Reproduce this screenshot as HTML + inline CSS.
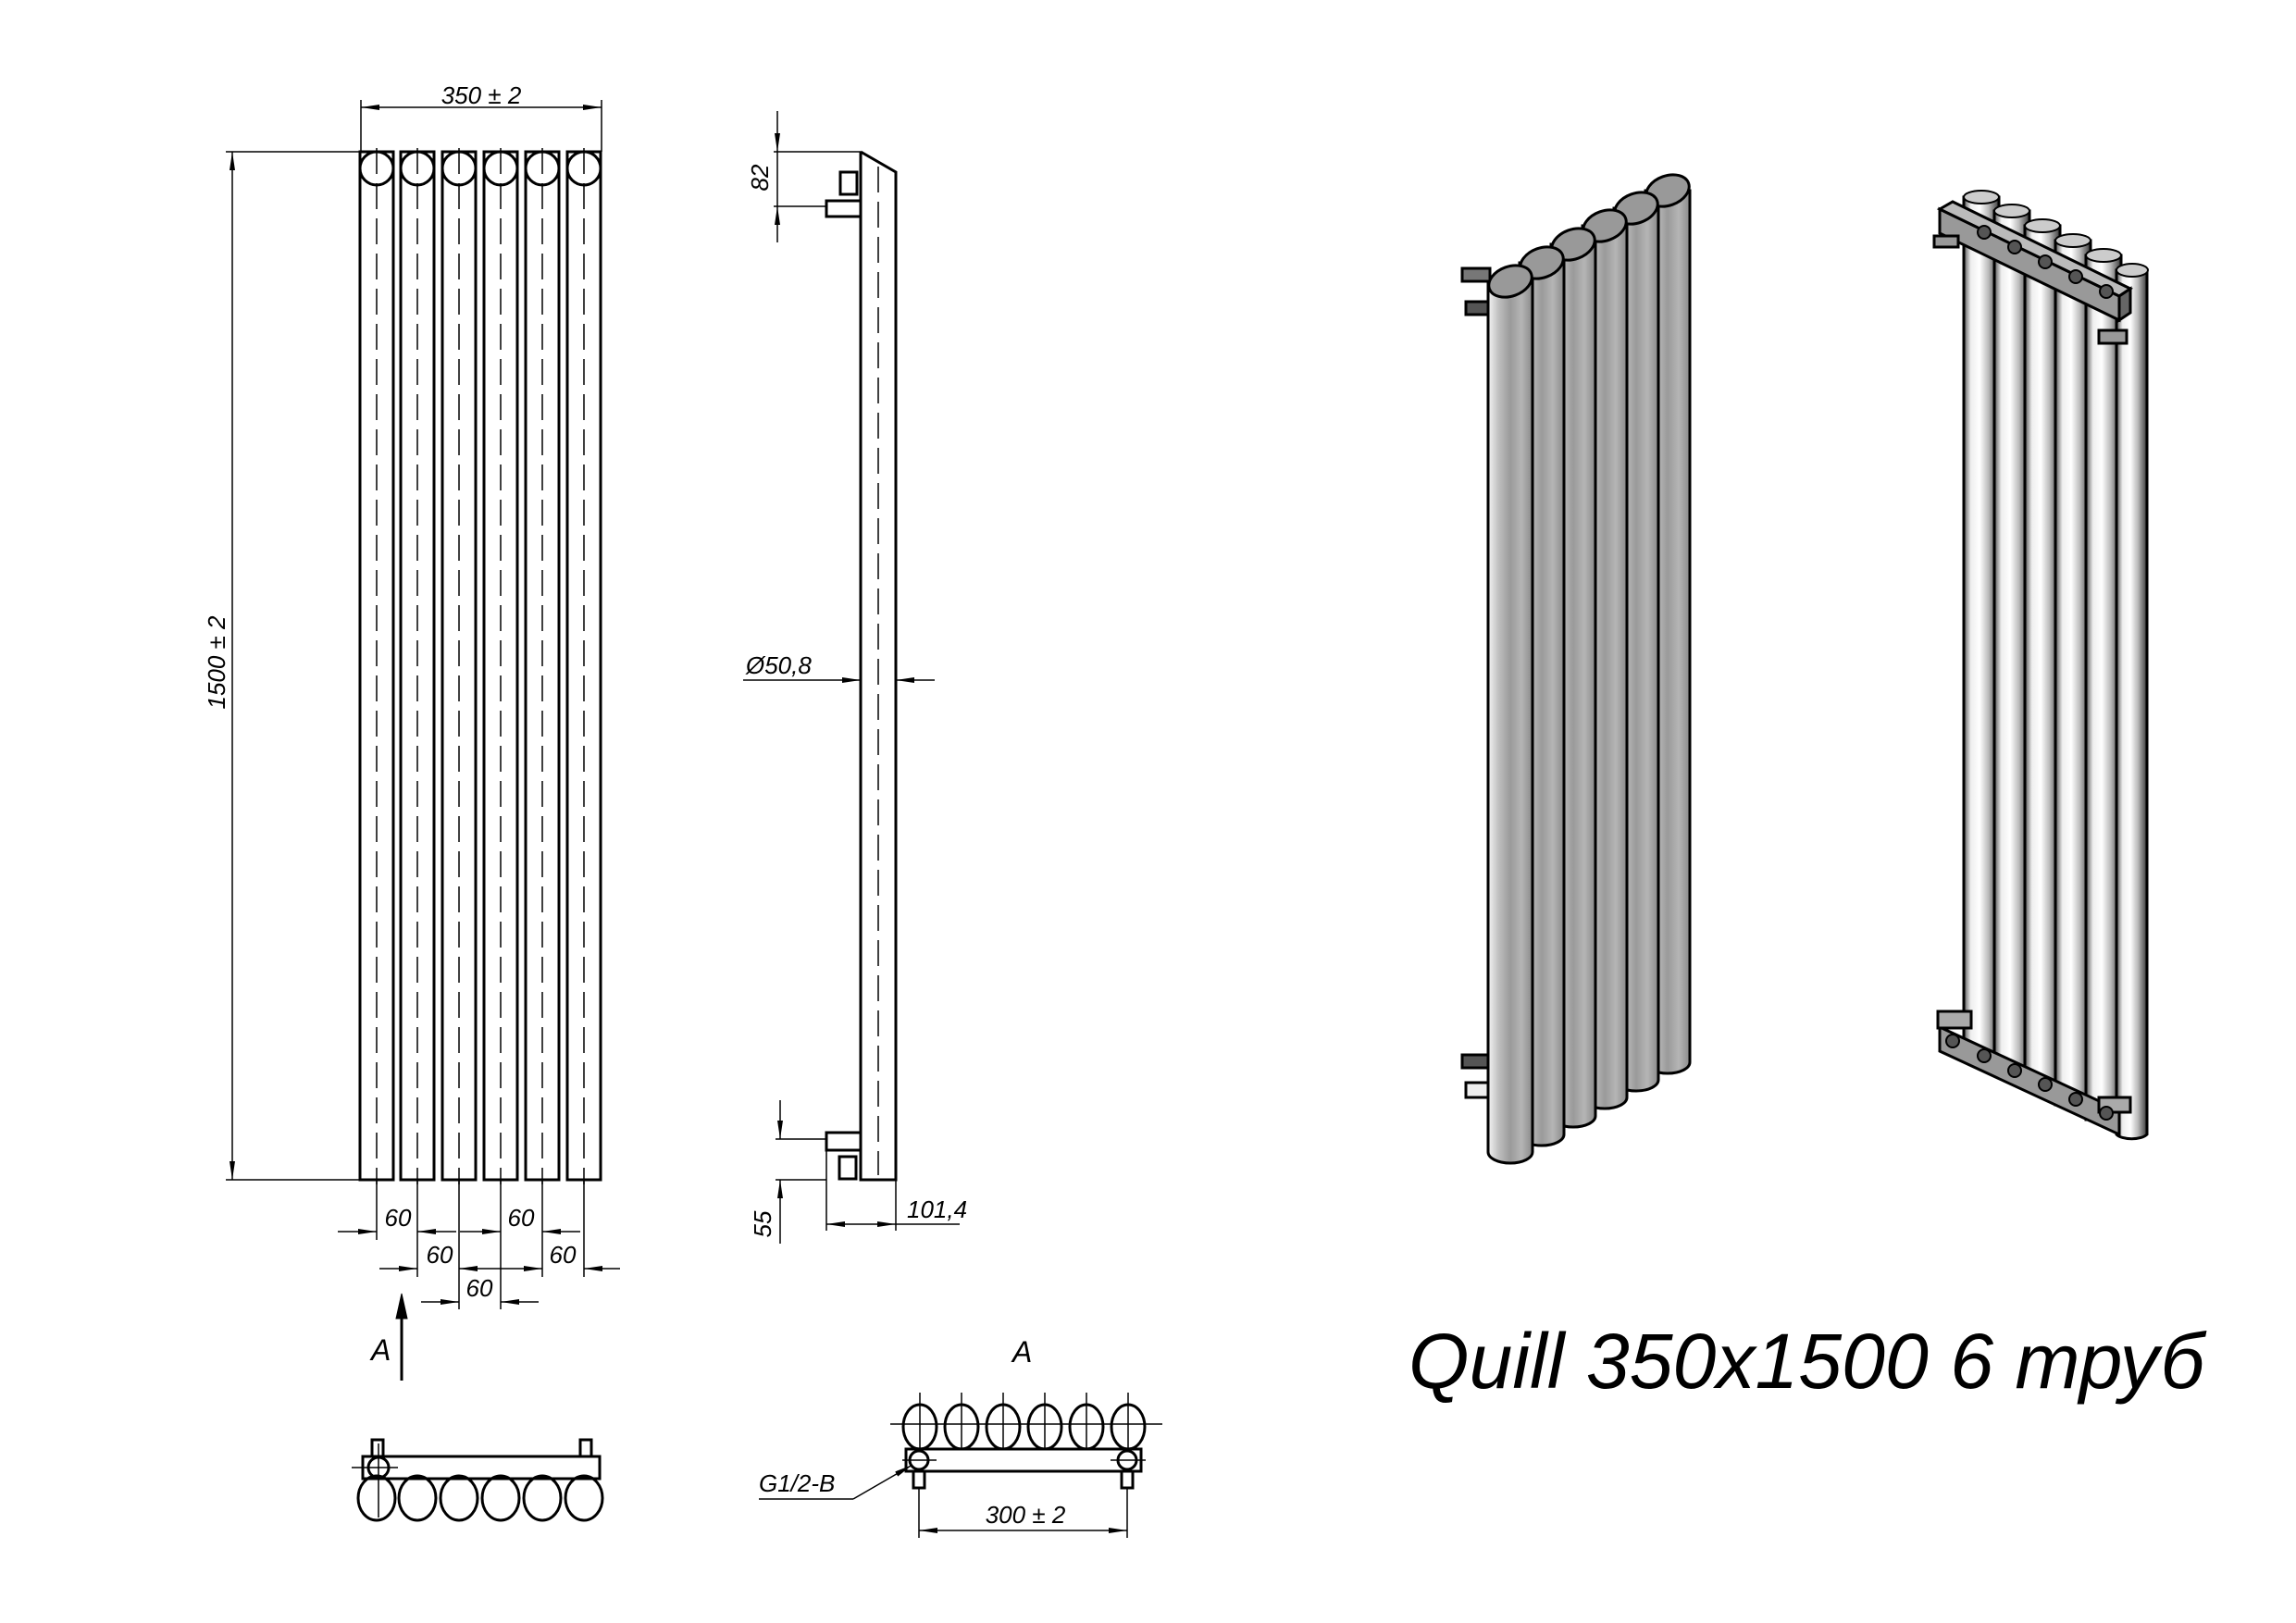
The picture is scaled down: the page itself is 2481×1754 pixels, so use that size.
<!DOCTYPE html>
<html><head><meta charset="utf-8"><style>
html,body{margin:0;padding:0;background:#fff}
svg{display:block}
text{font-family:"Liberation Sans","DejaVu Sans",sans-serif;font-style:italic;fill:#000}
</style></head><body>
<svg width="2481" height="1754" viewBox="0 0 2481 1754" xmlns="http://www.w3.org/2000/svg">
<defs>
<marker id="ar" viewBox="0 0 20 6" refX="20" refY="3" markerWidth="20" markerHeight="6" markerUnits="userSpaceOnUse" orient="auto-start-reverse"><path d="M0,0 L20,3 L0,6 z" fill="#000"/></marker>
<linearGradient id="g1" x1="0" x2="1" y1="0" y2="0">
<stop offset="0" stop-color="#f4f4f4"/><stop offset="0.25" stop-color="#bdbdbd"/><stop offset="0.5" stop-color="#9a9a9a"/><stop offset="0.75" stop-color="#b5b5b5"/><stop offset="1" stop-color="#8a8a8a"/></linearGradient>
<linearGradient id="g2" x1="0" x2="1" y1="0" y2="0">
<stop offset="0" stop-color="#555"/><stop offset="0.2" stop-color="#eee"/><stop offset="0.45" stop-color="#fff"/><stop offset="0.7" stop-color="#bbb"/><stop offset="0.9" stop-color="#666"/><stop offset="1" stop-color="#333"/></linearGradient>
</defs>
<g stroke="#000" fill="none">
<!-- 350 dim -->
<line x1="390" y1="108" x2="390" y2="164" stroke-width="1.5"/>
<line x1="650" y1="108" x2="650" y2="164" stroke-width="1.5"/>
<line x1="390" y1="116" x2="650" y2="116" stroke-width="1.5" marker-start="url(#ar)" marker-end="url(#ar)"/>
<!-- 1500 dim -->
<line x1="244" y1="164" x2="390" y2="164" stroke-width="1.5"/>
<line x1="244" y1="1275" x2="390" y2="1275" stroke-width="1.5"/>
<line x1="251" y1="164" x2="251" y2="1275" stroke-width="1.5" marker-start="url(#ar)" marker-end="url(#ar)"/>
<!-- tubes -->
<g stroke-width="3">
<rect x="389" y="164" width="36" height="1111"/><rect x="433" y="164" width="36" height="1111"/>
<rect x="478" y="164" width="36" height="1111"/><rect x="523" y="164" width="36" height="1111"/>
<rect x="568" y="164" width="36" height="1111"/><rect x="613" y="164" width="36" height="1111"/>
<circle cx="407" cy="182" r="18"/><circle cx="451" cy="182" r="18"/><circle cx="496" cy="182" r="18"/>
<circle cx="541" cy="182" r="18"/><circle cx="586" cy="182" r="18"/><circle cx="631" cy="182" r="18"/>
</g>
<g stroke-width="1.5" stroke-dasharray="28,10">
<line x1="407" y1="160" x2="407" y2="1280"/><line x1="451" y1="160" x2="451" y2="1280"/><line x1="496" y1="160" x2="496" y2="1280"/>
<line x1="541" y1="160" x2="541" y2="1280"/><line x1="586" y1="160" x2="586" y2="1280"/><line x1="631" y1="160" x2="631" y2="1280"/>
</g>
<!-- 60 dims -->
<g stroke-width="1.5">
<line x1="407" y1="1275" x2="407" y2="1340"/><line x1="451" y1="1275" x2="451" y2="1380"/>
<line x1="496" y1="1275" x2="496" y2="1415"/><line x1="541" y1="1275" x2="541" y2="1415"/>
<line x1="586" y1="1275" x2="586" y2="1380"/><line x1="631" y1="1275" x2="631" y2="1380"/>
<line x1="365" y1="1331" x2="407" y2="1331" marker-end="url(#ar)"/><line x1="493" y1="1331" x2="451" y2="1331" marker-end="url(#ar)"/>
<line x1="497" y1="1331" x2="541" y2="1331" marker-end="url(#ar)"/><line x1="627" y1="1331" x2="586" y2="1331" marker-end="url(#ar)"/>
<line x1="410" y1="1371" x2="451" y2="1371" marker-end="url(#ar)"/><line x1="541" y1="1371" x2="496" y2="1371" marker-end="url(#ar)"/>
<line x1="541" y1="1371" x2="586" y2="1371" marker-end="url(#ar)"/><line x1="670" y1="1371" x2="631" y2="1371" marker-end="url(#ar)"/>
<line x1="455" y1="1407" x2="496" y2="1407" marker-end="url(#ar)"/><line x1="582" y1="1407" x2="541" y2="1407" marker-end="url(#ar)"/>
</g>
<!-- A arrow -->
<line x1="434" y1="1492" x2="434" y2="1420" stroke-width="3"/>
<path d="M428,1425 L434,1398 L440,1425 z" fill="#000" stroke-width="1"/>
<!-- bottom view left -->
<g stroke-width="3">
<rect x="392" y="1574" width="256" height="24"/>
<rect x="402" y="1556" width="12" height="18"/><rect x="627" y="1556" width="12" height="18"/>
<circle cx="409" cy="1586" r="11"/>
<ellipse cx="407" cy="1619" rx="20" ry="24"/><ellipse cx="451" cy="1619" rx="20" ry="24"/><ellipse cx="496" cy="1619" rx="20" ry="24"/>
<ellipse cx="541" cy="1619" rx="20" ry="24"/><ellipse cx="586" cy="1619" rx="20" ry="24"/><ellipse cx="631" cy="1619" rx="20" ry="24"/>
</g>
<line x1="380" y1="1586" x2="430" y2="1586" stroke-width="1.5"/>
<line x1="409" y1="1560" x2="409" y2="1640" stroke-width="1.5"/>
<!-- side view -->
<g stroke-width="3">
<path d="M930,164 L930,1275 L968,1275 L968,186 L930,164"/>
<rect x="908" y="186" width="18" height="24"/><rect x="893" y="217" width="37" height="17"/>
<rect x="893" y="1224" width="37" height="19"/><rect x="907" y="1250" width="18" height="24"/>
</g>
<line x1="949" y1="180" x2="949" y2="1270" stroke-width="1.5" stroke-dasharray="28,10"/>
<g stroke-width="1.5">
<line x1="836" y1="164" x2="930" y2="164"/><line x1="836" y1="223" x2="893" y2="223"/>
<line x1="840" y1="120" x2="840" y2="164" marker-end="url(#ar)"/><line x1="840" y1="262" x2="840" y2="223" marker-end="url(#ar)"/>
<line x1="840" y1="164" x2="840" y2="223"/>
<line x1="803" y1="735" x2="930" y2="735" marker-end="url(#ar)"/><line x1="1010" y1="735" x2="968" y2="735" marker-end="url(#ar)"/>
<line x1="838" y1="1231" x2="893" y2="1231"/><line x1="838" y1="1275" x2="893" y2="1275"/>
<line x1="843" y1="1189" x2="843" y2="1231" marker-end="url(#ar)"/><line x1="843" y1="1344" x2="843" y2="1275" marker-end="url(#ar)"/>
<line x1="893" y1="1243" x2="893" y2="1330"/><line x1="968" y1="1275" x2="968" y2="1330"/>
<line x1="893" y1="1323" x2="968" y2="1323" marker-start="url(#ar)" marker-end="url(#ar)"/><line x1="968" y1="1323" x2="1037" y2="1323"/>
</g>
<!-- view A right -->
<g stroke-width="3">
<ellipse cx="994" cy="1542" rx="18" ry="24"/><ellipse cx="1039" cy="1542" rx="18" ry="24"/><ellipse cx="1084" cy="1542" rx="18" ry="24"/>
<ellipse cx="1129" cy="1542" rx="18" ry="24"/><ellipse cx="1174" cy="1542" rx="18" ry="24"/><ellipse cx="1219" cy="1542" rx="18" ry="24"/>
<rect x="979" y="1566" width="254" height="24"/>
<circle cx="993" cy="1578" r="10"/><circle cx="1218" cy="1578" r="10"/>
<rect x="987" y="1590" width="12" height="18"/><rect x="1212" y="1590" width="12" height="18"/>
</g>
<g stroke-width="1.5">
<line x1="962" y1="1539" x2="1256" y2="1539"/>
<line x1="994" y1="1505" x2="994" y2="1566"/><line x1="1039" y1="1505" x2="1039" y2="1566"/><line x1="1084" y1="1505" x2="1084" y2="1566"/>
<line x1="1129" y1="1505" x2="1129" y2="1566"/><line x1="1174" y1="1505" x2="1174" y2="1566"/><line x1="1219" y1="1505" x2="1219" y2="1566"/>
<line x1="975" y1="1578" x2="1012" y2="1578"/><line x1="1200" y1="1578" x2="1238" y2="1578"/>
<line x1="993" y1="1608" x2="993" y2="1662"/><line x1="1218" y1="1608" x2="1218" y2="1662"/>
<line x1="993" y1="1654" x2="1218" y2="1654" marker-start="url(#ar)" marker-end="url(#ar)"/>
<line x1="820" y1="1620" x2="922" y2="1620"/><line x1="922" y1="1620" x2="986" y2="1583" marker-end="url(#ar)"/>
</g>
</g>
<!-- labels -->
<text x="520" y="112" font-size="26" text-anchor="middle">350 ± 2</text>
<text transform="translate(243,716) rotate(-90)" font-size="26" text-anchor="middle">1500 ± 2</text>
<text x="430" y="1325" font-size="26" text-anchor="middle">60</text>
<text x="563" y="1325" font-size="26" text-anchor="middle">60</text>
<text x="475" y="1365" font-size="26" text-anchor="middle">60</text>
<text x="608" y="1365" font-size="26" text-anchor="middle">60</text>
<text x="518" y="1401" font-size="26" text-anchor="middle">60</text>
<text x="401" y="1470" font-size="32">A</text>
<text transform="translate(830,192) rotate(-90)" font-size="26" text-anchor="middle">82</text>
<text x="806" y="728" font-size="26">Ø50,8</text>
<text transform="translate(833,1323) rotate(-90)" font-size="26" text-anchor="middle">55</text>
<text x="980" y="1316" font-size="26">101,4</text>
<text x="1094" y="1472" font-size="32">A</text>
<text x="820" y="1612" font-size="26">G1/2-B</text>
<text x="1108" y="1646" font-size="26" text-anchor="middle">300 ± 2</text>
<text x="1522" y="1500" font-size="84" textLength="860" lengthAdjust="spacingAndGlyphs">Quill  350x1500   6  труб</text>
<!-- 3D left -->
<g stroke="#000" stroke-width="3">
<rect x="1580" y="290" width="30" height="14" fill="#777"/><rect x="1584" y="326" width="30" height="14" fill="#555"/>
<rect x="1580" y="1140" width="30" height="14" fill="#555"/><rect x="1584" y="1170" width="26" height="16" fill="#eee"/>
<g fill="url(#g1)">
<path d="M1778,206 L1826,206 L1826,1148 A24,12 0 0 1 1778,1148 Z"/>
<path d="M1744,225 L1792,225 L1792,1167 A24,12 0 0 1 1744,1167 Z"/>
<path d="M1710,244 L1758,244 L1758,1186 A24,12 0 0 1 1710,1186 Z"/>
<path d="M1676,264 L1724,264 L1724,1206 A24,12 0 0 1 1676,1206 Z"/>
<path d="M1642,284 L1690,284 L1690,1226 A24,12 0 0 1 1642,1226 Z"/>
<path d="M1608,304 L1656,304 L1656,1245 A24,12 0 0 1 1608,1245 Z"/>
</g>
<g fill="#999">
<ellipse cx="1802" cy="206" rx="24" ry="16" transform="rotate(-20 1802 206)"/>
<ellipse cx="1768" cy="225" rx="24" ry="16" transform="rotate(-20 1768 225)"/>
<ellipse cx="1734" cy="244" rx="24" ry="16" transform="rotate(-20 1734 244)"/>
<ellipse cx="1700" cy="264" rx="24" ry="16" transform="rotate(-20 1700 264)"/>
<ellipse cx="1666" cy="284" rx="24" ry="16" transform="rotate(-20 1666 284)"/>
<ellipse cx="1632" cy="304" rx="24" ry="16" transform="rotate(-20 1632 304)"/>
</g>
</g>
<!-- 3D right -->
<g stroke="#000" stroke-width="3">
<g fill="url(#g2)">
<path d="M2122,213 L2160,213 L2160,1145 L2122,1145 Z"/>
<path d="M2155,228 L2193,228 L2193,1162 L2155,1162 Z"/>
<path d="M2188,244 L2226,244 L2226,1178 L2188,1178 Z"/>
<path d="M2221,260 L2259,260 L2259,1194 L2221,1194 Z"/>
<path d="M2254,276 L2292,276 L2292,1210 L2254,1210 Z"/>
<path d="M2287,292 L2320,292 L2320,1226 A18,8 0 0 1 2287,1226 Z"/>
</g>
<g fill="#ccc" stroke-width="2">
<ellipse cx="2141" cy="213" rx="19" ry="7"/><ellipse cx="2174" cy="228" rx="19" ry="7"/><ellipse cx="2207" cy="244" rx="19" ry="7"/>
<ellipse cx="2240" cy="260" rx="19" ry="7"/><ellipse cx="2273" cy="276" rx="19" ry="7"/><ellipse cx="2304" cy="292" rx="17" ry="7"/>
</g>
<path d="M2096,226 L2290,320 L2290,346 L2096,252 Z" fill="#999"/>
<path d="M2096,226 L2110,218 L2302,312 L2290,320 Z" fill="#bbb"/>
<path d="M2290,320 L2302,312 L2302,338 L2290,346 Z" fill="#666"/>
<rect x="2090" y="255" width="26" height="12" fill="#999"/><rect x="2268" y="357" width="30" height="14" fill="#999"/>
<path d="M2096,1110 L2290,1200 L2290,1226 L2096,1136 Z" fill="#999"/>
<rect x="2094" y="1093" width="36" height="18" fill="#aaa"/><rect x="2268" y="1186" width="34" height="16" fill="#aaa"/>
<g fill="#555" stroke-width="2">
<circle cx="2144" cy="251" r="7"/><circle cx="2177" cy="267" r="7"/><circle cx="2210" cy="283" r="7"/><circle cx="2243" cy="299" r="7"/><circle cx="2276" cy="315" r="7"/>
<circle cx="2110" cy="1125" r="7"/><circle cx="2144" cy="1141" r="7"/><circle cx="2177" cy="1157" r="7"/><circle cx="2210" cy="1172" r="7"/><circle cx="2243" cy="1188" r="7"/><circle cx="2276" cy="1203" r="7"/>
</g>
</g>
</svg>
</body></html>
